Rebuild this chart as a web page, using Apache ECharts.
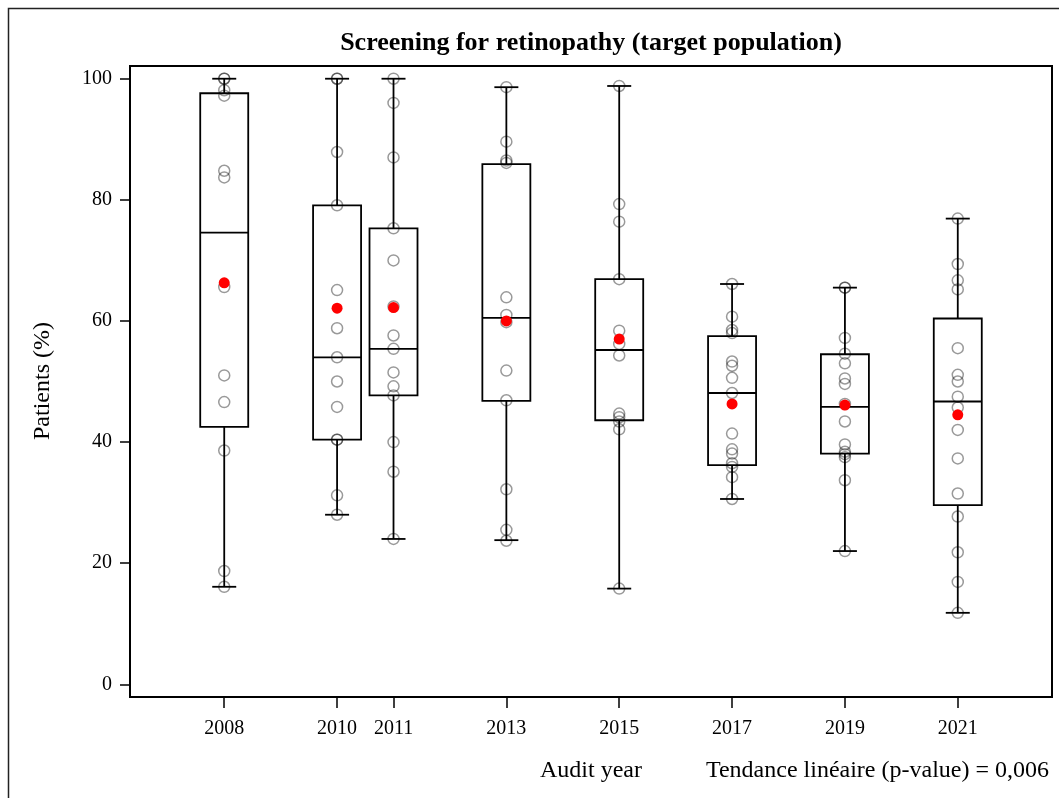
<!DOCTYPE html>
<html><head><meta charset="utf-8">
<script src="https://cdn.jsdelivr.net/npm/echarts@6/dist/echarts.min.js"></script>
<style>html,body{margin:0;padding:0;background:#fff}#c{width:1059px;height:798px}</style>
</head><body><div id="c"></div>
<script>
// ---- data ----
const years = [2008, 2010, 2011, 2013, 2015, 2017, 2019, 2021];
const whiskerLow  = [16.1, 28.0, 24.0, 23.8, 15.8, 30.6, 22.0, 11.8];
const q1          = [42.5, 40.4, 47.7, 46.8, 43.6, 36.2, 38.1, 29.6];
const median      = [74.6, 54.0, 55.4, 60.5, 55.2, 48.1, 45.8, 46.7];
const q3          = [97.6, 79.1, 75.3, 85.9, 66.9, 57.5, 54.5, 60.4];
const whiskerHigh = [100, 100, 100, 98.6, 98.8, 66.1, 65.5, 76.9];
const means       = [66.3, 62.1, 62.2, 60.0, 57.0, 46.3, 46.1, 44.5];
const yTicks = [0, 20, 40, 60, 80, 100];

const pts2008 = [100, 100, 98.1, 97.2, 84.8, 83.7, 65.6, 51.0, 46.6, 38.6, 18.7, 16.1];
const pts2010 = [100, 100, 87.9, 79.1, 65.1, 58.8, 54.0, 50.0, 45.8, 40.4, 40.4, 31.2, 28.0];
const pts2011 = [100, 96.0, 87.0, 75.3, 70.0, 62.4, 57.6, 55.4, 51.5, 49.2, 47.7, 40.0, 35.1, 24.0];
const pts2013 = [98.6, 89.6, 86.5, 86.1, 63.9, 61.0, 59.8, 51.8, 46.9, 32.2, 25.5, 23.7];
const pts2015 = [98.8, 79.3, 76.4, 66.9, 58.4, 56.2, 54.3, 44.7, 44.1, 43.4, 42.1, 15.8];
const pts2017 = [66.1, 60.7, 58.5, 58.0, 53.3, 52.6, 50.6, 48.1, 41.4, 38.8, 38.1, 36.5, 35.9, 34.2, 30.6];
const pts2019 = [65.5, 65.5, 57.2, 54.6, 53.0, 50.5, 49.6, 46.3, 43.4, 39.6, 38.4, 38.0, 37.5, 33.7, 22.0];
const pts2021 = [76.9, 69.4, 66.7, 65.2, 55.5, 51.1, 50.0, 47.5, 45.7, 42.0, 37.3, 31.5, 27.7, 21.8, 16.9, 11.8];
const pointsByYear = [pts2008, pts2010, pts2011, pts2013, pts2015, pts2017, pts2019, pts2021];

const titleText = 'Screening for retinopathy (target population)';
const xName = 'Audit year';
const yName = 'Patients (%)';
const noteText = 'Tendance linéaire (p-value) = 0,006';

// ---- build ----
const FONT = '"Liberation Serif", "Times New Roman", serif';
const BOX_W = 48, CAP_W = 24;

const boxData = years.map((y, i) => [y, whiskerLow[i], q1[i], median[i], q3[i], whiskerHigh[i]]);
const scatterData = [];
years.forEach((y, i) => pointsByYear[i].forEach(v => scatterData.push([y, v])));
const meanData = years.map((y, i) => [y, means[i]]);

const chart = echarts.init(document.getElementById('c'), null, {renderer: 'canvas'});
chart.setOption({
  animation: false,
  backgroundColor: '#fff',
  grid: {left: 130, top: 66, width: 922, height: 631, show: true, borderColor: '#000', borderWidth: 2, containLabel: false},
  xAxis: {
    type: 'value', min: 2006.33, max: 2022.67,
    splitLine: {show: false},
    axisLine: {show: true, onZero: false, lineStyle: {color: '#000', width: 2}},
    axisTick: {show: true, length: 11, lineStyle: {color: '#000', width: 1.5}, customValues: years},
    axisLabel: {color: '#000', fontFamily: FONT, fontSize: 20, margin: 22, customValues: years, formatter: v => String(v)},
    name: xName, nameLocation: 'middle', nameGap: 62,
    nameTextStyle: {color: '#000', fontFamily: FONT, fontSize: 24}
  },
  yAxis: {
    type: 'value', min: -2.1, max: 102.1,
    splitLine: {show: false},
    axisLine: {show: true, onZero: false, lineStyle: {color: '#000', width: 2}},
    axisTick: {show: true, length: 10, lineStyle: {color: '#000', width: 1.5}, customValues: yTicks},
    axisLabel: {color: '#000', fontFamily: FONT, fontSize: 20, margin: 18, customValues: yTicks}
  },
  graphic: [
    {type: 'rect', shape: {x: 8.5, y: 8.5, width: 1200, height: 1000}, style: {fill: 'none', stroke: '#222', lineWidth: 1.5}, silent: true},
    {type: 'text', x: 591, y: 43, style: {text: titleText, font: 'bold 26px ' + FONT, fill: '#000', align: 'center', verticalAlign: 'middle'}},
    {type: 'text', x: 43, y: 381, rotation: Math.PI / 2, style: {text: yName, font: '24px ' + FONT, fill: '#000', align: 'center', verticalAlign: 'middle'}},
    {type: 'text', x: 1049, y: 771, style: {text: noteText, font: '24px ' + FONT, fill: '#000', align: 'right', verticalAlign: 'middle'}}
  ],
  series: [
    {
      type: 'custom',
      data: boxData,
      z: 2,
      renderItem: function (params, api) {
        const x = api.value(0);
        const pL = api.coord([x, api.value(1)]);
        const p1 = api.coord([x, api.value(2)]);
        const pm = api.coord([x, api.value(3)]);
        const p3 = api.coord([x, api.value(4)]);
        const pH = api.coord([x, api.value(5)]);
        const cx = pL[0];
        const st = {stroke: '#000', lineWidth: 1.8, fill: 'none'};
        return {
          type: 'group',
          children: [
            {type: 'line', shape: {x1: cx, y1: pL[1], x2: cx, y2: p1[1]}, style: st},
            {type: 'line', shape: {x1: cx, y1: p3[1], x2: cx, y2: pH[1]}, style: st},
            {type: 'line', shape: {x1: cx - CAP_W / 2, y1: pL[1], x2: cx + CAP_W / 2, y2: pL[1]}, style: st},
            {type: 'line', shape: {x1: cx - CAP_W / 2, y1: pH[1], x2: cx + CAP_W / 2, y2: pH[1]}, style: st},
            {type: 'rect', shape: {x: cx - BOX_W / 2, y: p3[1], width: BOX_W, height: p1[1] - p3[1]}, style: st},
            {type: 'line', shape: {x1: cx - BOX_W / 2, y1: pm[1], x2: cx + BOX_W / 2, y2: pm[1]}, style: st}
          ]
        };
      }
    },
    {
      type: 'scatter', data: scatterData, z: 3,
      symbol: 'circle', symbolSize: 11,
      itemStyle: {color: 'rgba(0,0,0,0)', borderColor: 'rgba(0,0,0,0.5)', borderWidth: 1.5}
    },
    {
      type: 'scatter', data: meanData, z: 4,
      symbol: 'circle', symbolSize: 11,
      itemStyle: {color: '#ff0000', opacity: 1, borderWidth: 0}
    }
  ]
});
</script>
</body></html>
